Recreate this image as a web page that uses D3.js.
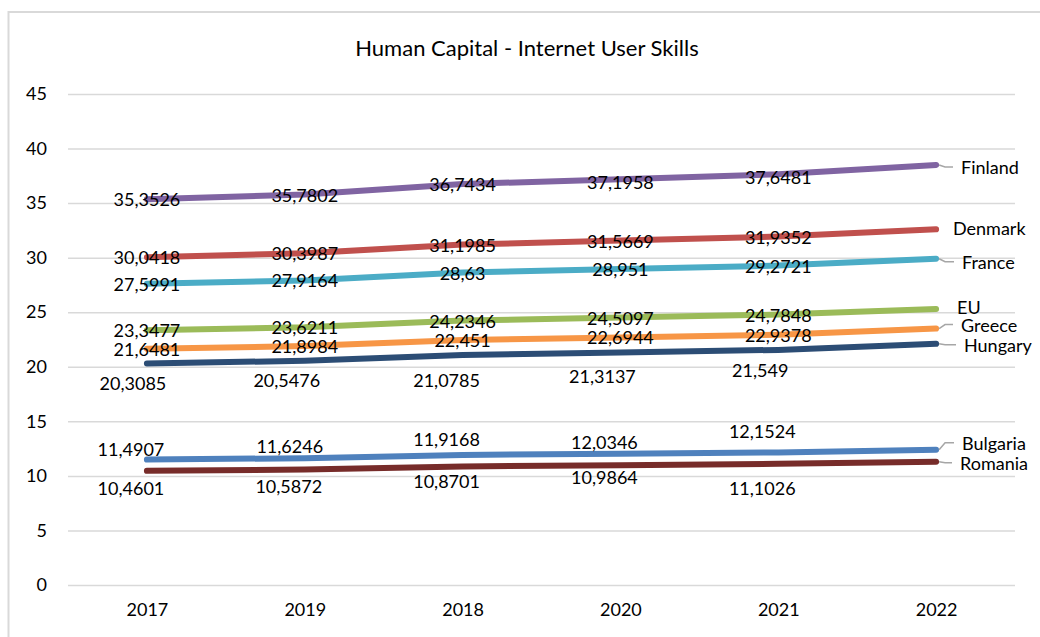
<!DOCTYPE html>
<html>
<head>
<meta charset="utf-8">
<script src="https://cdn.jsdelivr.net/npm/d3@7"></script>
<style>
    body { margin: 0; background: #fff; }
    svg text { font-family: Lato, "Open Sans", sans-serif; fill: #000; }
</style>
</head>
<body>
<svg id="chart" width="1040" height="637"></svg>
<script>
const years = ["2017", "2019", "2018", "2020", "2021", "2022"];
const yTicks = [0, 5, 10, 15, 20, 25, 30, 35, 40, 45];

const names = ["Finland", "Denmark", "France", "EU", "Greece", "Hungary", "Bulgaria", "Romania"];
const finland  = [35.3526, 35.7802, 36.7434, 37.1958, 37.6481, 38.5];
const denmark  = [30.0418, 30.3987, 31.1985, 31.5669, 31.9352, 32.6];
const france   = [27.5991, 27.9164, 28.63, 28.951, 29.2721, 29.9];
const eu       = [23.3477, 23.6211, 24.2346, 24.5097, 24.7848, 25.3];
const greece   = [21.6481, 21.8984, 22.451, 22.6944, 22.9378, 23.5];
const hungary  = [20.3085, 20.5476, 21.0785, 21.3137, 21.549, 22.1];
const bulgaria = [11.4907, 11.6246, 11.9168, 12.0346, 12.1524, 12.4];
const romania  = [10.4601, 10.5872, 10.8701, 10.9864, 11.1026, 11.3];
const values = [finland, denmark, france, eu, greece, hungary, bulgaria, romania];

const colors = ["#8064a2", "#c0504d", "#4bacc6", "#9bbb59", "#f79646", "#2c4d75", "#4f81bd", "#772c2a"];

// where excel dropped the value labels (per series, per point: [dx, dy])
const labelNudge = [
    [[0, 0], [0, 0], [0, 0], [0, 3], [0, 3]],
    [[0, 0], [0, 0], [0, 0], [0, 0], [0, 0]],
    [[0, 0], [0, 0], [0, 0], [0, 0], [0, 0]],
    [[0, 0], [0, 0], [0, 0], [0, 0], [0, 0]],
    [[0, 0], [0, 0], [0, 0], [0, 0], [0, 0]],
    [[-14, 20], [-18, 19], [-16, 25], [-18, 24], [-18, 20]],
    [[-16, -11], [-15, -12], [-16, -16], [-16, -12], [-16, -21]],
    [[-16, 17], [-16, 17], [-16, 15], [-16, 12], [-16, 24]]
];
// series name at the line end: [x, dy, leader]
const nameNudge = [
    [961, 2, true], [953, -1, false], [962, 3, true], [957, -2, false],
    [961, -4, true], [964, 1, true], [962, -7, true], [960, 1, true]
];

const svg = d3.select("#chart");
const fmt = v => String(v).replace(".", ",");

svg.append("rect")
    .attr("x", 8.5).attr("y", 12)
    .attr("width", 1100).attr("height", 700)
    .attr("fill", "none")
    .attr("stroke", "#d9d9d9")
    .attr("stroke-width", 2);

const x = d3.scalePoint()
    .domain(years)
    .range([68, 1015])
    .padding(0.5);

const y = d3.scaleLinear()
    .domain([0, 45])
    .range([585, 94]);

svg.append("text")
    .attr("x", 527).attr("y", 47)
    .attr("text-anchor", "middle")
    .attr("dominant-baseline", "central")
    .attr("font-size", "22px")
    .text("Human Capital - Internet User Skills");

// gridlines + y labels
const yAxis = svg.append("g")
    .attr("transform", "translate(68,0)")
    .call(d3.axisLeft(y).tickValues(yTicks).tickSize(-947).tickPadding(21));
yAxis.select(".domain").remove();
yAxis.selectAll(".tick line").attr("stroke", "#d9d9d9").attr("stroke-width", 1.5);
yAxis.selectAll(".tick text").attr("font-size", "18px").attr("fill", "#000");

const xAxis = svg.append("g")
    .attr("transform", "translate(0,585)")
    .call(d3.axisBottom(x).tickSize(0).tickPadding(18));
xAxis.select(".domain").remove();
xAxis.selectAll(".tick text").attr("font-size", "18px").attr("fill", "#000");

const line = d3.line()
    .x((d, i) => x(years[i]))
    .y(d => y(d));

svg.selectAll("path.series")
    .data(values)
    .enter()
    .append("path")
    .attr("class", "series")
    .attr("d", d => line(d))
    .attr("fill", "none")
    .attr("stroke", (d, i) => colors[i])
    .attr("stroke-width", 6)
    .attr("stroke-linecap", "round")
    .attr("stroke-linejoin", "round");

// value labels (the 2022 point has none)
values.forEach((series, s) => {
    svg.append("g")
        .selectAll("text")
        .data(series.slice(0, 5))
        .enter()
        .append("text")
        .attr("x", (d, i) => x(years[i]) + labelNudge[s][i][0])
        .attr("y", (d, i) => y(d) + labelNudge[s][i][1])
        .attr("text-anchor", "middle")
        .attr("dominant-baseline", "central")
        .attr("font-size", "18px")
        .text(d => fmt(d));
});

// series names + leader lines
const last = years.length - 1;
values.forEach((series, s) => {
    const px = x(years[last]);
    const py = y(series[last]);
    const [lx, dy, leader] = nameNudge[s];
    const ly = py + dy;
    if (leader) {
        svg.append("path")
            .attr("d", `M${px + 3},${py} L${px + 9},${ly} L${lx - 8},${ly}`)
            .attr("fill", "none")
            .attr("stroke", "#a6a6a6")
            .attr("stroke-width", 1.5);
    }
    svg.append("text")
        .attr("x", lx)
        .attr("y", ly)
        .attr("dominant-baseline", "central")
        .attr("font-size", "18px")
        .text(names[s]);
});
</script>
</body>
</html>
